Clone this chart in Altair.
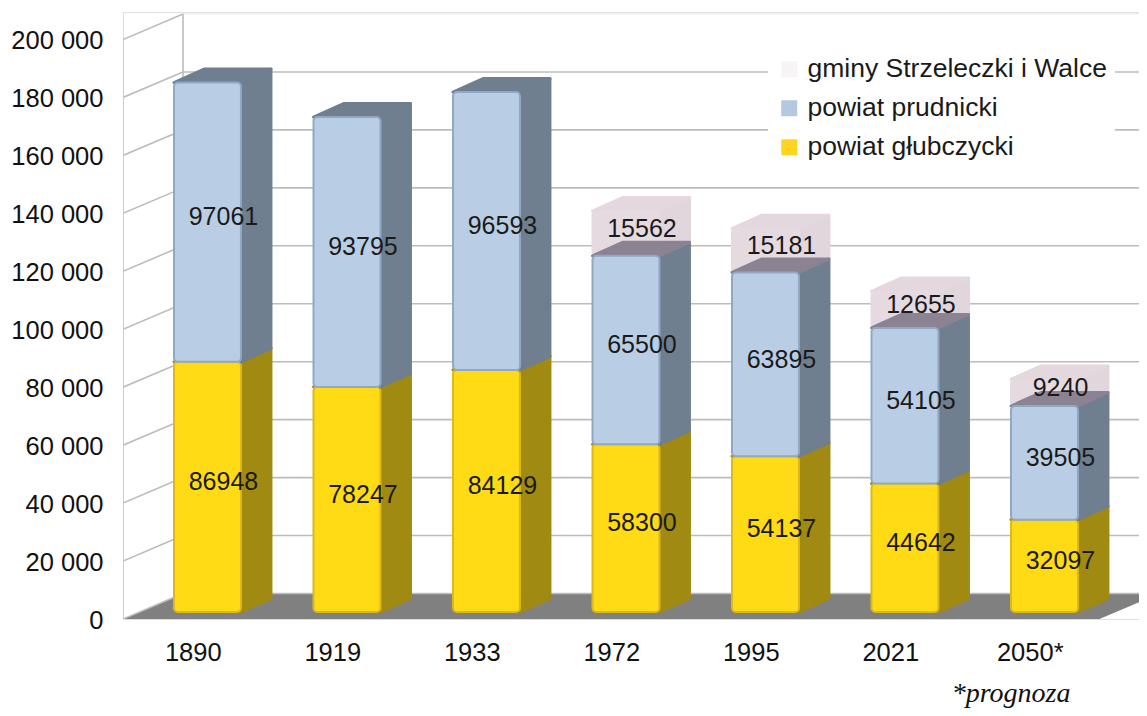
import altair as alt
import pandas as pd

labels = ["1890", "1919", "1933", "1972", "1995", "2021", "2050*"]
glubczycki = [86948, 78247, 84129, 58300, 54137, 44642, 32097]
prudnicki = [97061, 93795, 96593, 65500, 63895, 54105, 39505]
gminy = [0, 0, 0, 15562, 15181, 12655, 9240]
series_names = ["gminy Strzeleczki i Walce", "powiat prudnicki", "powiat głubczycki"]
legend_colors = ["#f7f4f6", "#b4c8df", "#ffd320"]
ticks = list(range(0, 200001, 20000))

# layout in data units
XMAX = 1016 / 139.5
YMAX = 209500
LEFT, WIDTH = 0.3656, 0.48
DX, DY = 0.215, 4660
BASE, K = 2416, 0.993
WDX, WDY = 0.43, 8800
styles = {
    "y": dict(front="#ffdb15", edge="#dcb81c", side="#a08a12", top="#a08a12"),
    "b": dict(front="#b9cee5", edge="#8fa9c4", side="#6f7f8f", top="#6f7f8f"),
    "p": dict(front="#e6dae1", edge="#e6dae1", side="#e2d6dd", top="#e4d8df"),
}

fronts, sides, tops, texts = [], [], [], []
for i, lab in enumerate(labels):
    x0 = i + LEFT
    x1 = x0 + WIDTH
    c = 0
    for key, v in (("y", glubczycki[i]), ("b", prudnicki[i]), ("p", gminy[i])):
        if not v:
            continue
        lo, hi = BASE + c * K, BASE + (c + v) * K
        c += v
        s = styles[key]
        id_ = f"{key}{i}"
        top_col = s["top"]
        if key == "b" and gminy[i]:
            top_col = "#8b8292"
        fronts.append(dict(id=id_, k=key, x=x0, x2=x1, y=lo, y2=hi, fill=s["front"], edge=s["edge"]))
        for t, (xx, off) in enumerate(((x1, 0), (x1 + DX, DY))):
            sides.append(dict(id=id_, k=key, x=xx, y=lo + off, y2=hi + off, fill=s["side"]))
        for t, (off_x, off) in enumerate(((0, 0), (DX, DY))):
            tops.append(dict(id=id_, k=key, x=x0 + off_x, x2=x1 + off_x, y=hi + off, fill=top_col))
        texts.append(dict(x=x0 + (WIDTH + DX) / 2, y=(lo + hi + DY) / 2, t=str(v)))

fronts, sides, tops = map(pd.DataFrame, (fronts, sides, tops))
xs = alt.Scale(domain=[0, XMAX], nice=False, zero=False)
ys = alt.Scale(domain=[0, YMAX], nice=False, zero=False)
x_axis = alt.Axis(
    values=[i + 0.5 for i in range(len(labels))], title=None, grid=False, domain=False, ticks=False,
    labelExpr="[" + ",".join(f"'{l}'" for l in labels) + "][datum.value - 0.5]",
    labelFontSize=25.5, labelFont="Liberation Sans", labelColor="#111111", labelPadding=21, labelFlush=False)
y_axis = alt.Axis(
    values=ticks, title=None, grid=False, domain=False, ticks=False,
    labelExpr="replace(format(datum.value, ','), ',', ' ')",
    labelFontSize=25.5, labelFont="Liberation Sans", labelColor="#111111", labelPadding=20, labelOffset=1)
X = alt.X("x:Q", scale=xs, axis=x_axis, title=None)
Y = alt.Y("y:Q", scale=ys, axis=y_axis, title=None)


def side_layer(df):
    return alt.Chart(df).mark_area(strokeWidth=3, strokeJoin="round").encode(
        x=X, y=Y, y2="y2:Q", detail="id:N",
        fill=alt.Fill("fill:N", scale=None), stroke=alt.Stroke("fill:N", scale=None))


def top_layer(df):
    return alt.Chart(df).mark_area(orient="horizontal", strokeWidth=3, strokeJoin="round").encode(
        y=Y, x=X, x2="x2:Q", detail="id:N",
        fill=alt.Fill("fill:N", scale=None), stroke=alt.Stroke("fill:N", scale=None))


def front_layer(df):
    return alt.Chart(df).mark_rect(cornerRadius=4, strokeWidth=2).encode(
        x=X, x2="x2:Q", y=Y, y2="y2:Q",
        fill=alt.Fill("fill:N", scale=None), stroke=alt.Stroke("edge:N", scale=None))


# walls and grid
segs = []
for t in ticks:
    segs.append(dict(id=f"d{t}", x=0, y=t, c="#bcbcbc"))
    segs.append(dict(id=f"d{t}", x=WDX, y=t + WDY, c="#bcbcbc"))
    col = "#eeeeee" if t == 200000 else "#bcbcbc"
    segs.append(dict(id=f"h{t}", x=WDX, y=t + WDY, c=col))
    segs.append(dict(id=f"h{t}", x=XMAX, y=t + WDY, c=col))
segs += [dict(id="v0", x=0, y=0, c="#c8c8c8"), dict(id="v0", x=0, y=200000, c="#c8c8c8"),
         dict(id="v1", x=WDX, y=WDY, c="#bcbcbc"), dict(id="v1", x=WDX, y=200000 + WDY, c="#bcbcbc")]
grid = alt.Chart(pd.DataFrame(segs)).mark_line(strokeWidth=1.6, clip=True).encode(
    x=X, y=Y, detail="id:N", stroke=alt.Stroke("c:N", scale=None))

floor = alt.Chart(pd.DataFrame([dict(x=0, x2=7, y=0), dict(x=WDX, x2=7 + WDX, y=WDY)])).mark_area(
    orient="horizontal", color="#808080", clip=True).encode(y=Y, x=X, x2="x2:Q")

text = alt.Chart(pd.DataFrame(texts)).mark_text(
    font="Liberation Sans", fontSize=25, color="#1a1a1a", align="center", baseline="middle", dx=1, dy=2
).encode(x=X, y=Y, text="t:N")

note = alt.Chart(pd.DataFrame({"x": [5.94], "y": [-28650], "t": ["*prognoza"]})).mark_text(
    font="Liberation Serif", fontStyle="italic", fontSize=28, color="#111111", align="left", baseline="alphabetic"
).encode(x=X, y=Y, text="t:N")

legend_layer = alt.Chart(pd.DataFrame({"s": series_names, "x": [0.0] * 3, "y": [0] * 3})).mark_rect().encode(
    x=X, x2="x:Q", y=Y, y2="y:Q",
    color=alt.Color("s:N", scale=alt.Scale(domain=series_names, range=legend_colors), legend=alt.Legend(
        title=None, orient="none", legendX=645, legendY=36, fillColor="white", padding=8,
        symbolType="square", symbolSize=256, symbolStrokeWidth=0, labelFont="Liberation Sans",
        labelFontSize=26.5, labelColor="#1a1a1a", rowPadding=12, labelOffset=5, symbolOffset=0, labelLimit=400)),
)

by = lambda df, k: df[df.k == k]
chart = alt.layer(
    floor, grid,
    side_layer(by(sides, "p")), top_layer(by(tops, "p")), front_layer(by(fronts, "p")),
    side_layer(by(sides, "y")), top_layer(by(tops, "y")), front_layer(by(fronts, "y")),
    side_layer(by(sides, "b")), top_layer(by(tops, "b")), front_layer(by(fronts, "b")),
    text, note, legend_layer,
).properties(
    width=1016, height=607,
    padding={"left": 115, "top": 4, "right": 0, "bottom": 89},
    autosize=alt.AutoSizeParams(type="none"),
).configure_view(stroke=None).configure(background="white")

chart.save("out.html", embed_options={"renderer": "svg", "actions": False})
